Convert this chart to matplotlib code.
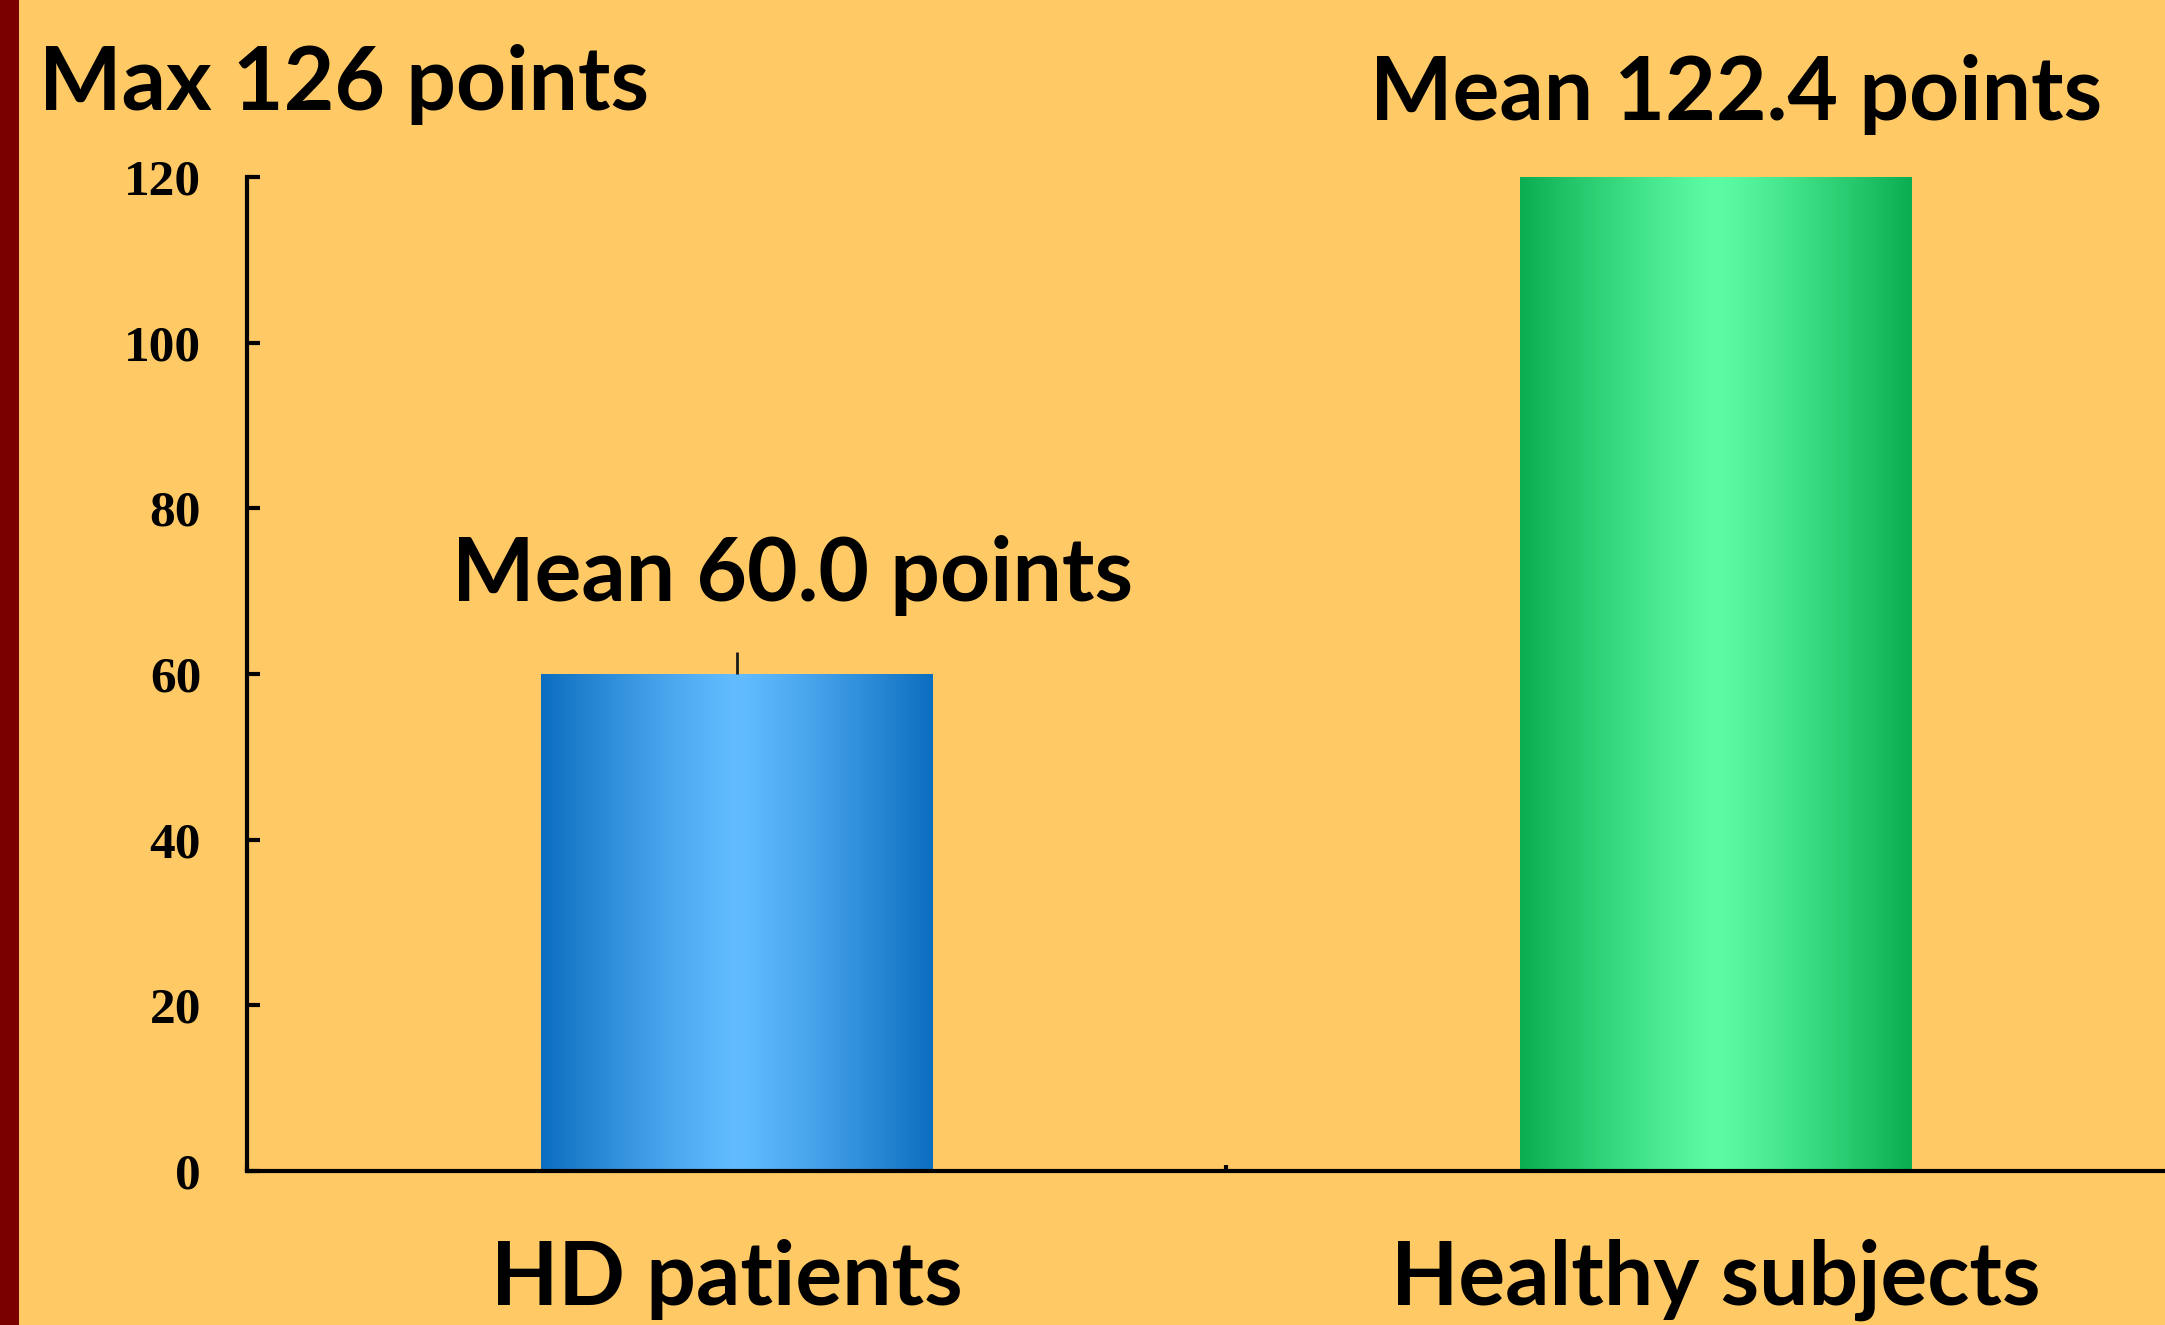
import numpy as np
import matplotlib.pyplot as plt
from matplotlib.patches import Rectangle
from matplotlib.transforms import blended_transform_factory, offset_copy

# data
groups = ["HD patients", "Healthy subjects"]
means = [60.0, 122.4]
err_up = [2.6, 0.0]
max_score = 126
yticks = [0, 20, 40, 60, 80, 100, 120]

# colours: (edge, centre) of each bar gradient
bg = "#FFCA66"
grad_cols = [((12, 110, 192), (98, 188, 255)),
             ((10, 174, 80), (92, 252, 164))]

W, H = 2165, 1325
fig = plt.figure(figsize=(W / 100, H / 100), dpi=100, facecolor=bg)

# dark red strip on the left
fig.patches.append(Rectangle((0, 0), 19 / W, 1, transform=fig.transFigure,
                             facecolor="#7A0000", edgecolor="none", zorder=0))

# axes box in pixels: left spine x=247, bottom y=1171, top y=177, mid tick x=1226
x0, yb, yt, xm = 247, 1171, 177, 1226
ax = fig.add_axes([x0 / W, (H - yb) / H, 2 * (xm - x0) / W, (yb - yt) / H])
ax.set_facecolor(bg)

pos = np.arange(len(groups)) + 0.5
bars = ax.bar(pos, means, width=0.4, color="none", edgecolor="none", zorder=2)

# horizontal gradient inside every bar (axes clip cuts it at the top)
n = 256
t = np.linspace(0, 1, n)
d = (np.abs(t - 0.5) / 0.5) ** 1.2
for b, (edge, mid) in zip(bars, grad_cols):
    edge = np.array(edge) / 255
    mid = np.array(mid) / 255
    img = mid[None, :] + (edge - mid)[None, :] * d[:, None]
    bx, by = b.get_x(), b.get_y()
    ax.imshow(img[None, :, :], extent=[bx, bx + b.get_width(), by, by + b.get_height()],
              aspect="auto", interpolation="bilinear", zorder=2)

# upper error bar only, no cap
ax.errorbar(pos, means, yerr=[np.zeros(len(err_up)), err_up], fmt="none",
            ecolor="#1a1a1a", elinewidth=2, capsize=0, zorder=3)

ax.set_xlim(0, 2)
ax.set_ylim(0, 120)

for key in ("top", "right"):
    ax.spines[key].set_visible(False)
for key in ("left", "bottom"):
    ax.spines[key].set_linewidth(3)
    ax.spines[key].set_color("black")

ax.set_yticks(yticks)
ax.set_yticklabels([str(v) for v in yticks], fontfamily="Liberation Serif",
                   fontweight="bold", fontsize=37)
ax.tick_params(axis="y", direction="in", length=9.5, width=3, pad=33)
ax.set_xticks([0, 1, 2])
ax.set_xticklabels([])
ax.tick_params(axis="x", direction="in", length=4, width=3)

big = dict(family="Lato", weight="bold", fontsize=63, color="black")

# category names under the bars (small nudge in pixels, as in the original)
tr = blended_transform_factory(ax.transData, ax.transAxes)
nudge = [-10, 0]
for p, g, dx in zip(pos, groups, nudge):
    ax.text(p, (yb - 1305) / (yb - yt), g, ha="center", va="baseline",
            transform=offset_copy(tr, fig=fig, x=dx, y=0, units="dots"), **big)

fig.text(39 / W, 1 - 110 / H, "Max %d points" % max_score, ha="left", va="baseline", **big)
fig.text(792 / W, 1 - 601 / H, "Mean %.1f points" % means[0], ha="center", va="baseline", **big)
fig.text(1736 / W, 1 - 120 / H, "Mean %.1f points" % means[1], ha="center", va="baseline", **big)

fig.savefig("out.png", dpi=100, facecolor=bg)
